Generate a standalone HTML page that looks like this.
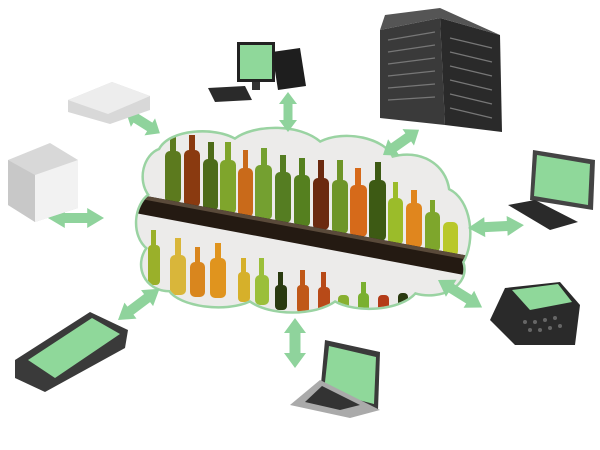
<!DOCTYPE html>
<html><head><style>html,body{margin:0;padding:0;background:#fff;width:600px;height:450px;overflow:hidden}</style></head>
<body>
<svg width="600" height="450" viewBox="0 0 600 450" xmlns="http://www.w3.org/2000/svg">
<defs>
<clipPath id="cl"><path d="M160,150 C170,130 215,128 235,140 C255,125 300,125 320,143 C345,130 385,140 392,158 C420,150 445,165 448,190 C470,200 475,240 462,262 C470,285 440,300 415,292 C400,310 355,312 335,300 C315,315 270,315 250,300 C225,312 180,305 170,290 C145,290 135,265 148,248 C132,235 135,205 150,195 C138,180 145,155 160,150 Z"/></clipPath>
<g id="arr"><polygon points="0,0 12,-10 12,-5 28,-5 28,-10 40,0 28,10 28,5 12,5 12,10" fill="#8fd39c"/></g>
</defs>
<path d="M160,150 C170,130 215,128 235,140 C255,125 300,125 320,143 C345,130 385,140 392,158 C420,150 445,165 448,190 C470,200 475,240 462,262 C470,285 440,300 415,292 C400,310 355,312 335,300 C315,315 270,315 250,300 C225,312 180,305 170,290 C145,290 135,265 148,248 C132,235 135,205 150,195 C138,180 145,155 160,150 Z" fill="#eeeeec" stroke="#9ad3a2" stroke-width="5"/>
<g clip-path="url(#cl)">
<rect x="130" y="120" width="350" height="200" fill="#ecebea"/>
<g>
<rect x="165" y="151" width="16" height="52" rx="5" fill="#5c7a1e"/><rect x="170" y="132" width="6" height="22" fill="#5c7a1e"/>
<rect x="184" y="150" width="16" height="57" rx="5" fill="#8a3a10"/><rect x="189" y="135" width="6" height="18" fill="#8a3a10"/>
<rect x="203" y="159" width="15" height="52" rx="5" fill="#4d6b19"/><rect x="208" y="142" width="6" height="20" fill="#4d6b19"/>
<rect x="220" y="160" width="16" height="54" rx="5" fill="#7fa52c"/><rect x="225" y="142" width="6" height="20" fill="#7fa52c"/>
<rect x="238" y="168" width="15" height="49" rx="5" fill="#c96a1a"/><rect x="243" y="150" width="5" height="20" fill="#c96a1a"/>
<rect x="255" y="165" width="17" height="55" rx="5" fill="#74a030"/><rect x="261" y="148" width="6" height="20" fill="#74a030"/>
<rect x="275" y="172" width="16" height="51" rx="5" fill="#557d22"/><rect x="280" y="155" width="6" height="20" fill="#557d22"/>
<rect x="294" y="175" width="16" height="52" rx="5" fill="#55801f"/><rect x="299" y="158" width="6" height="20" fill="#55801f"/>
<rect x="313" y="178" width="16" height="52" rx="5" fill="#6b2a10"/><rect x="318" y="160" width="6" height="20" fill="#6b2a10"/>
<rect x="332" y="180" width="16" height="54" rx="5" fill="#6e9528"/><rect x="337" y="160" width="6" height="22" fill="#6e9528"/>
<rect x="350" y="185" width="17" height="52" rx="5" fill="#d66a1a"/><rect x="355" y="168" width="6" height="20" fill="#d66a1a"/>
<rect x="369" y="180" width="17" height="61" rx="5" fill="#3d5a14"/><rect x="375" y="162" width="6" height="20" fill="#3d5a14"/>
<rect x="388" y="198" width="15" height="47" rx="5" fill="#9bbc2a"/><rect x="393" y="182" width="5" height="18" fill="#9bbc2a"/>
<rect x="406" y="203" width="16" height="45" rx="5" fill="#e0861e"/><rect x="411" y="190" width="6" height="15" fill="#e0861e"/>
<rect x="425" y="212" width="15" height="40" rx="5" fill="#7ea62c"/><rect x="430" y="200" width="5" height="14" fill="#7ea62c"/>
<rect x="443" y="222" width="15" height="34" rx="5" fill="#b9c82a"/>
<rect x="148" y="245" width="12" height="40" rx="4" fill="#9ab02a"/><rect x="151" y="230" width="5" height="17" fill="#9ab02a"/>
<rect x="170" y="255" width="16" height="40" rx="5" fill="#d9b63a"/><rect x="175" y="238" width="6" height="19" fill="#d9b63a"/>
<rect x="190" y="262" width="15" height="35" rx="5" fill="#d9861e"/><rect x="195" y="247" width="5" height="17" fill="#d9861e"/>
<rect x="210" y="258" width="16" height="40" rx="5" fill="#e0941e"/><rect x="215" y="243" width="6" height="17" fill="#e0941e"/>
<rect x="238" y="272" width="12" height="30" rx="4" fill="#d6b02a"/><rect x="241" y="258" width="5" height="16" fill="#d6b02a"/>
<rect x="255" y="275" width="14" height="30" rx="5" fill="#9bbf3a"/><rect x="259" y="258" width="5" height="19" fill="#9bbf3a"/>
<rect x="275" y="285" width="12" height="25" rx="4" fill="#2a3a10"/><rect x="278" y="272" width="5" height="15" fill="#2a3a10"/>
<rect x="297" y="285" width="12" height="28" rx="4" fill="#c05818"/><rect x="300" y="270" width="5" height="17" fill="#c05818"/>
<rect x="318" y="287" width="12" height="28" rx="4" fill="#b84a18"/><rect x="321" y="272" width="5" height="17" fill="#b84a18"/>
<rect x="338" y="295" width="11" height="22" rx="4" fill="#88b030"/>
<rect x="358" y="293" width="11" height="22" rx="4" fill="#7ab030"/><rect x="361" y="282" width="5" height="13" fill="#7ab030"/>
<rect x="378" y="295" width="11" height="22" rx="4" fill="#b43c18"/>
<rect x="398" y="293" width="10" height="22" rx="4" fill="#2a3a10"/>
</g>
<polygon points="130,193 480,258 480,278 130,212" fill="#241a12"/>
<polygon points="130,193 480,258 480,262 130,197" fill="#5a4a3a"/>
</g>
<use href="#arr" transform="translate(288,92) rotate(90) scale(1,0.9)"/>
<use href="#arr" transform="translate(126,112) rotate(32)"/>
<use href="#arr" transform="translate(48,218) scale(1.4,1)"/>
<use href="#arr" transform="translate(383,155) rotate(-35) scale(1.1,1)"/>
<use href="#arr" transform="translate(468,228) rotate(-3) scale(1.4,1)"/>
<use href="#arr" transform="translate(438,280) rotate(32) scale(1.3,1)"/>
<use href="#arr" transform="translate(295,318) rotate(90) scale(1.25,1.1)"/>
<use href="#arr" transform="translate(118,320) rotate(-37) scale(1.3,1)"/>
<rect x="237" y="42" width="38" height="40" fill="#222"/><rect x="240" y="45" width="32" height="34" fill="#8fd89a"/>
<rect x="252" y="82" width="8" height="8" fill="#333"/>
<polygon points="272,52 300,48 306,86 278,90" fill="#1e1e1e"/>
<polygon points="208,88 245,86 252,100 215,102" fill="#2a2a2a"/>
<polygon points="380,30 440,18 445,125 380,118" fill="#3a3a3a"/>
<polygon points="440,18 500,35 502,132 445,125" fill="#2a2a2a"/>
<polygon points="380,30 440,18 500,35 440,8 385,15" fill="#555"/>
<g fill="none" stroke="#777" stroke-width="1.2">
<path d="M388,40 L435,32 M388,52 L435,45 M388,64 L435,58 M388,76 L435,71 M388,88 L435,84 M388,100 L435,97"/>
<path d="M450,38 L492,48 M450,52 L492,62 M450,66 L492,76 M450,80 L492,90 M450,94 L492,104 M450,108 L492,118"/>
</g>
<polygon points="533,150 595,160 593,210 530,200" fill="#444"/>
<polygon points="537,155 590,164 588,205 534,196" fill="#8fd89a"/>
<polygon points="508,205 535,200 578,222 550,230" fill="#2a2a2a"/>
<polygon points="505,288 560,282 580,305 575,345 515,345 490,320" fill="#2a2a2a"/>
<polygon points="512,290 558,284 572,302 530,310" fill="#8fd89a"/>
<g fill="#666"><circle cx="525" cy="322" r="2"/><circle cx="535" cy="322" r="2"/><circle cx="545" cy="320" r="2"/><circle cx="555" cy="318" r="2"/><circle cx="530" cy="330" r="2"/><circle cx="540" cy="330" r="2"/><circle cx="550" cy="328" r="2"/><circle cx="560" cy="326" r="2"/></g>
<polygon points="325,340 380,352 378,410 320,395" fill="#3a3a3a"/>
<polygon points="329,346 376,357 374,404 324,391" fill="#8fd89a"/>
<polygon points="290,405 320,380 380,410 350,418" fill="#aaa"/>
<polygon points="305,402 322,386 360,405 340,410" fill="#333"/>
<polygon points="15,360 90,312 128,330 125,348 45,392 15,378" fill="#3a3a3a"/>
<polygon points="28,360 92,318 120,334 55,378" fill="#8fd89a"/>
<polygon points="8,160 50,143 78,160 78,208 35,222 8,205" fill="#d8d8d8"/>
<polygon points="35,175 78,160 78,208 35,222" fill="#f2f2f2"/>
<polygon points="8,160 35,175 35,222 8,205" fill="#c8c8c8"/>
<polygon points="68,100 112,82 150,96 150,110 110,124 68,112" fill="#d8d8d8"/>
<polygon points="68,100 112,82 150,96 108,114" fill="#ededed"/>
</svg>
</body></html>
